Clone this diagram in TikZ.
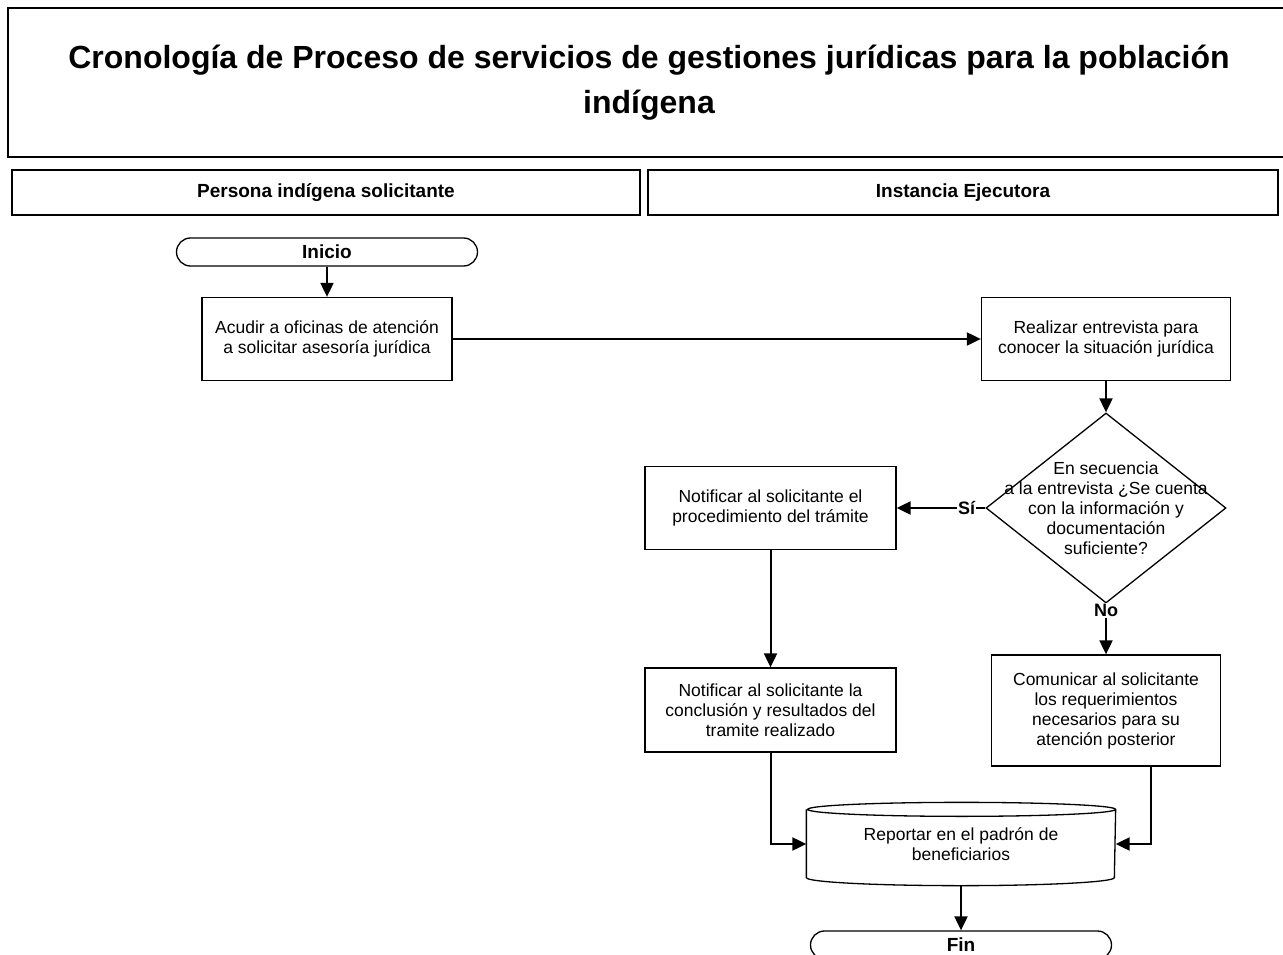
\documentclass[tikz,border=0pt]{standalone}
\usepackage{fontspec}
\setmainfont{Liberation Sans}
\usetikzlibrary{arrows.meta,shapes.geometric}

\newcommand{\txtsize}{\fontsize{17.5}{20}\selectfont}
\newcommand{\headsize}{\fontsize{19}{22}\selectfont\bfseries}
\newcommand{\titlesize}{\fontsize{32}{45}\selectfont\bfseries}

\tikzset{
  proc/.style={draw,line width=1.3pt,align=center,font=\txtsize,inner sep=0pt},
  term/.style={draw,line width=1.3pt,rounded corners=14pt,minimum width=301pt,minimum height=28pt,inner sep=0pt,font=\headsize},
  flow/.style={line width=2pt,-{Triangle[length=14pt,width=13pt]}},
  lbl/.style={fill=white,inner sep=1pt,font=\fontsize{18}{20}\selectfont\bfseries}
}

\begin{document}
\begin{tikzpicture}[x=1pt,y=-1pt]

      \useasboundingbox (0,0) rectangle (1283,955);

      \begin{scope}[every node/.style={draw,align=center,inner sep=0pt}]
        \node[line width=2.4pt,minimum width=1282pt,minimum height=149pt,font=\titlesize] (title) at (649,82.5)
          {Cronología de Proceso de servicios de gestiones jurídicas para la población\\indígena};
        \node[line width=1.3pt,minimum width=628pt,minimum height=45pt,font=\headsize] (lane1) at (326,192.5) {Persona indígena solicitante};
        \node[line width=1.3pt,minimum width=630pt,minimum height=45pt,font=\headsize] (lane2) at (963,192.5) {Instancia Ejecutora};
      \end{scope}

      \begin{scope}[every node/.style={proc}]
        \node[term] (inicio) at (327,252) {Inicio};
        \node[minimum width=250pt,minimum height=83pt] (acudir) at (327,339) {Acudir a oficinas de atención\\a solicitar asesoría jurídica};
        \node[minimum width=249pt,minimum height=83pt] (entrev) at (1106,339) {Realizar entrevista para\\conocer la situación jurídica};
        \node[diamond,minimum width=240pt,minimum height=190pt,
              label={[font=\txtsize,align=center]center:En secuencia\\a la entrevista ¿Se cuenta\\con la información y\\documentación\\suficiente?}] (secuencia) at (1106,508) {};
        \node[minimum width=251pt,minimum height=83pt] (notif1) at (770.5,508) {Notificar al solicitante el\\procedimiento del trámite};
        \node[minimum width=251pt,minimum height=84pt] (notif2) at (770.5,710) {Notificar al solicitante la\\conclusión y resultados del\\tramite realizado};
        \node[minimum width=229pt,minimum height=111pt] (comun) at (1106,710.5) {Comunicar al solicitante\\los requerimientos\\necesarios para su\\atención posterior};
        \node[draw=none,minimum width=308pt,minimum height=82pt] (padron) at (961,844) {Reportar en el padrón de\\beneficiarios};
        \node[term] (fin) at (961,945) {Fin};
      \end{scope}

      \draw[line width=1.3pt] ([yshift=-7pt]padron.north west) -- ([yshift=8pt]padron.south west)
        arc[start angle=180,end angle=360,x radius=154pt,y radius=8pt] -- ([yshift=-7pt]padron.north east)
        arc[start angle=0,end angle=180,x radius=154pt,y radius=7pt]
        arc[start angle=180,end angle=360,x radius=154pt,y radius=7pt];

      \begin{scope}[every edge/.style={draw,flow}]
        \path (inicio) edge (acudir);
        \path (acudir) edge (entrev);
        \path (entrev) edge (secuencia);
        \path (secuencia) edge node[lbl,pos=.21] {Sí} (notif1);
        \path (secuencia) edge node[lbl,pos=.13] {No} (comun);
        \path (notif1) edge (notif2);
        \path (padron) edge (fin);
      \end{scope}

      \draw[flow] (notif2.south) |- (padron.west);
      \draw[flow] ([xshift=45pt]comun.south) |- (padron.east);

    \end{tikzpicture}
\end{document}
